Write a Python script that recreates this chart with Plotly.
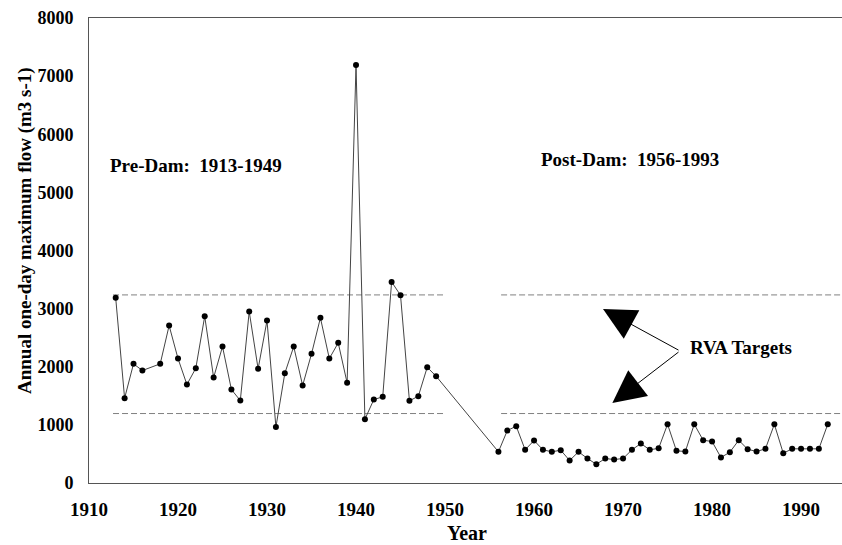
import plotly.graph_objects as go

years = [1913, 1914, 1915, 1916, 1918, 1919, 1920, 1921, 1922, 1923, 1924, 1925,
         1926, 1927, 1928, 1929, 1930, 1931, 1932, 1933, 1934, 1935, 1936, 1937,
         1938, 1939, 1940, 1941, 1942, 1943, 1944, 1945, 1946, 1947, 1948, 1949,
         1956, 1957, 1958, 1959, 1960, 1961, 1962, 1963, 1964, 1965, 1966, 1967,
         1968, 1969, 1970, 1971, 1972, 1973, 1974, 1975, 1976, 1977, 1978, 1979,
         1980, 1981, 1982, 1983, 1984, 1985, 1986, 1987, 1988, 1989, 1990, 1991,
         1992, 1993]
flow = [3185, 1458, 2050, 1935, 2050, 2708, 2141, 1694, 1974, 2868, 1814, 2347,
        1608, 1419, 2949, 1964, 2794, 963, 1888, 2347, 1677, 2222, 2841, 2141,
        2411, 1723, 7192, 1097, 1436, 1482, 3460, 3230, 1414, 1493, 1991, 1837,
        537, 903, 977, 571, 731, 571, 537, 564, 387, 537, 421, 323,
        421, 404, 421, 571, 679, 571, 597, 1011, 554, 542, 1011, 736,
        714, 439, 530, 736, 581, 542, 588, 1011, 512, 588, 588, 588,
        588, 1011]

rva_low = 1195
rva_high = 3236
pre_span = [1912.7, 1949.8]
post_span = [1956.3, 1995]

x_ticks = [1910, 1920, 1930, 1940, 1950, 1960, 1970, 1980, 1990]
y_ticks = [0, 1000, 2000, 3000, 4000, 5000, 6000, 7000, 8000]

FONT = "Liberation Serif"
dash_style = dict(color="#808080", width=1, dash="6px,3px")

fig = go.Figure()
for span in (pre_span, post_span):
    for lvl in (rva_low, rva_high):
        fig.add_trace(go.Scatter(x=span, y=[lvl, lvl], mode="lines",
                                 line=dash_style, hoverinfo="skip",
                                 showlegend=False))

fig.add_trace(go.Scatter(x=years, y=flow, mode="lines+markers",
                         line=dict(color="#444444", width=1),
                         marker=dict(color="black", size=6),
                         showlegend=False))

fig.add_annotation(x=1922.0, y=5455, text="<b>Pre-Dam:  1913-1949</b>",
                   showarrow=False, font=dict(family=FONT, size=19, color="black"))
fig.add_annotation(x=1970.8, y=5560, text="<b>Post-Dam:  1956-1993</b>",
                   showarrow=False, font=dict(family=FONT, size=19, color="black"))
fig.add_annotation(x=1983.3, y=2323, text="<b>RVA Targets</b>",
                   showarrow=False, font=dict(family=FONT, size=19, color="black"))

# arrows from label to targets
fig.add_annotation(x=1967.75, y=2995, ax=1976.4, ay=2272, axref="x", ayref="y",
                   text="", showarrow=True, arrowhead=2, arrowsize=6.5,
                   arrowwidth=1, arrowcolor="black")
fig.add_annotation(x=1968.8, y=1377, ax=1976.4, ay=2272, axref="x", ayref="y",
                   text="", showarrow=True, arrowhead=2, arrowsize=6.5,
                   arrowwidth=1, arrowcolor="black")

# axis titles
fig.add_annotation(xref="paper", yref="paper", x=0.502, y=-0.1075,
                   text="<b>Year</b>", showarrow=False,
                   xanchor="center", yanchor="middle",
                   font=dict(family=FONT, size=20, color="black"))
fig.add_annotation(xref="paper", yref="paper", x=-0.085, y=0.544,
                   text="<b>Annual one-day maximum flow (m3 s-1)</b>",
                   showarrow=False, textangle=-90,
                   xanchor="center", yanchor="middle",
                   font=dict(family=FONT, size=19, color="black"))

fig.update_layout(
    width=850, height=545,
    margin=dict(l=89, r=8, t=18, b=62),
    paper_bgcolor="white", plot_bgcolor="white",
    font=dict(family=FONT, color="black"),
)
fig.update_xaxes(range=[1910, 1994.6], tickvals=x_ticks, ticks="",
                 showgrid=False, zeroline=False, showline=True,
                 linecolor="#555555", linewidth=1, mirror=True,
                 automargin=False,
                 tickfont=dict(family=FONT, size=19, color="black", weight="bold"),
                 ticklabelstandoff=9)
fig.update_yaxes(range=[0, 8000], tickvals=y_ticks, ticks="",
                 showgrid=False, zeroline=False, showline=True, mirror=False,
                 linecolor="#555555", linewidth=1,
                 automargin=False,
                 tickfont=dict(family=FONT, size=18, color="black", weight="bold"),
                 ticklabelstandoff=11)

fig.write_html("out.html",
               config={"displayModeBar": False},
               post_script="document.body.style.margin='0';"
                           "document.body.style.overflow='hidden';")
